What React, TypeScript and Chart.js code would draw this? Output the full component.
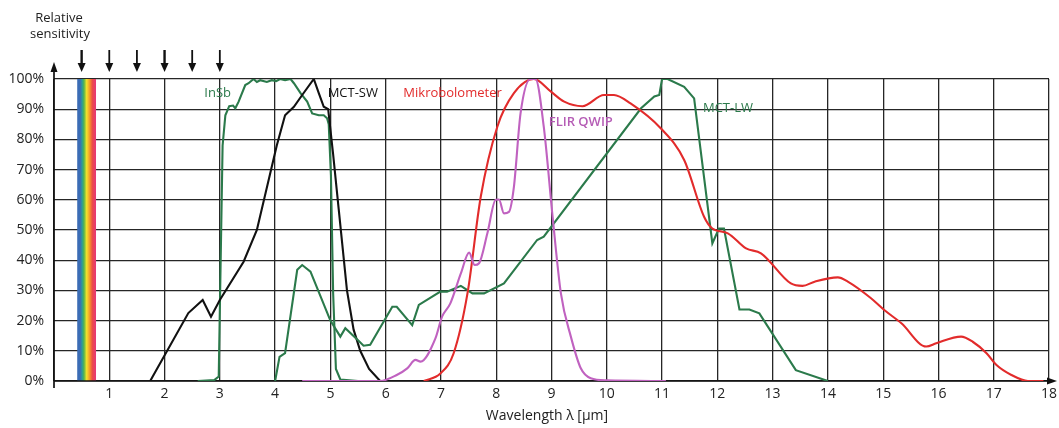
import React, { useEffect, useRef } from 'react';
import { Chart, registerables } from 'chart.js';

Chart.register(...registerables);

const FONT = '"Open Sans", "Noto Sans", sans-serif';

// ---- data ----
const xMin = 0;
const xMax = 18;
const yMax = 100;

const insbWavelength = [2.6, 2.9, 2.98, 3.05, 3.1, 3.17, 3.24, 3.28, 3.34, 3.46, 3.52, 3.61, 3.67, 3.73, 3.85, 3.94, 4.02, 4.09, 4.18, 4.28, 4.34, 4.46, 4.58, 4.67, 4.79, 4.88, 4.94, 4.97, 5.01, 5.05, 5.1, 5.18, 5.5];
const insbSensitivity = [0, 0.3, 1.5, 78, 88, 91, 91.2, 90.3, 92.5, 98, 98.6, 100, 99, 99.6, 99, 99.6, 99.3, 100, 99.6, 100, 98.6, 95.3, 92.5, 88.6, 88, 88, 87, 85, 68, 29, 4, 0.5, 0];

const mctSwWavelength = [1.74, 2.43, 2.69, 2.84, 3.0, 3.43, 3.67, 4.03, 4.18, 4.34, 4.49, 4.7, 4.79, 4.88, 4.96, 5.05, 5.15, 5.3, 5.42, 5.54, 5.7, 5.9];
const mctSwSensitivity = [0, 22.5, 26.8, 21.3, 26.8, 39.5, 50, 78, 88, 90.8, 94.7, 100, 95.3, 90.8, 90, 75, 57, 30, 17, 10, 4, 0];

const mctLwWavelength = [4.0, 4.08, 4.18, 4.4, 4.49, 4.64, 5.0, 5.18, 5.27, 5.5, 5.6, 5.72, 6.12, 6.2, 6.48, 6.6, 6.99, 7.11, 7.36, 7.57, 7.78, 8.14, 8.74, 8.86, 10.62, 10.86, 10.95, 11.0, 11.1, 11.4, 11.58, 11.91, 12.03, 12.12, 12.4, 12.58, 12.76, 13.42, 14.0];
const mctLwSensitivity = [0, 8, 9.2, 36.8, 38.4, 36.2, 20, 14.7, 17.5, 13.5, 11.7, 12, 24.6, 24.6, 18.5, 25.2, 29.6, 29.6, 31.5, 29, 29, 32.3, 46.7, 47.8, 90.3, 94.2, 94.7, 100, 100, 97.4, 93.6, 45.6, 50.5, 50.5, 23.7, 23.7, 22.4, 3.6, 0];

const bolometerWavelength = [6.69, 6.99, 7.23, 7.48, 7.72, 8.02, 8.32, 8.68, 8.99, 9.23, 9.56, 9.95, 10.13, 10.43, 10.98, 11.4, 11.76, 11.91, 12.19, 12.52, 12.79, 13.33, 13.54, 13.76, 14.18, 14.36, 14.78, 15.02, 15.33, 15.78, 15.96, 16.41, 16.62, 16.87, 17.05, 17.32, 17.62, 17.9];
const bolometerSensitivity = [0, 2.5, 9.2, 29, 61, 84.2, 95.3, 100, 95.8, 92.5, 91, 94.7, 94.7, 91.9, 83.6, 73.2, 54.4, 50.5, 48.9, 43.9, 42.3, 32.3, 31.5, 32.9, 34.3, 32.9, 27.4, 23.5, 19.1, 11.4, 12.5, 14.7, 13, 9.2, 5.3, 2, 0, 0];

const qwipWavelength = [4.49, 5.9, 6.2, 6.39, 6.54, 6.63, 6.9, 7.02, 7.17, 7.36, 7.51, 7.61, 7.69, 7.84, 7.99, 8.05, 8.14, 8.23, 8.32, 8.44, 8.62, 8.71, 8.86, 9.02, 9.17, 9.35, 9.53, 9.71, 10.0, 11.07];
const qwipSensitivity = [0, 0, 2, 4.2, 7, 6.4, 14.1, 21.3, 25.7, 35.6, 42.5, 38.4, 39, 48.9, 60, 60.1, 55.5, 56, 64.3, 88.6, 100, 100, 84.2, 54.4, 29, 14.7, 4.2, 0.9, 0.2, 0];

const seriesNames = ['InSb', 'MCT-SW', 'Mikrobolometer', 'FLIR QWIP', 'MCT-LW'];
const arrowWavelengths = [0.5, 1, 1.5, 2, 2.5, 3];
const visibleBand = [0.42, 0.76];
const titleLines = ['Relative', 'sensitivity'];
const xAxisTitle = 'Wavelength \u03bb [\u00b5m]';

// ---- styles ----
const GREEN = '#2b7a4b';
const BLACK = '#111111';
const RED = '#e22b2b';
const PURPLE = '#c062c0';
const spectrumStops: [number, string][] = [
  [0, '#3b6cb5'],
  [0.16, '#3b6cb5'],
  [0.26, '#2a9c98'],
  [0.36, '#55b44c'],
  [0.5, '#f2e32b'],
  [0.66, '#f39a2a'],
  [0.8, '#ec4d45'],
  [1, '#e6377a'],
];

const labelStyle = [
  { x: 2.72, y: 95.4, color: GREEN, weight: '400' },
  { x: 4.95, y: 95.4, color: BLACK, weight: '400' },
  { x: 6.32, y: 95.4, color: RED, weight: '400' },
  { x: 8.95, y: 85.8, color: '#b55cb5', weight: '600' },
  { x: 11.74, y: 90.4, color: GREEN, weight: '400' },
];

const toPoints = (xs: number[], ys: number[]) => xs.map((x, i) => ({ x, y: ys[i] }));

const decorPlugin = {
  id: 'decor',
  beforeDatasetsDraw(chart: any) {
    const { ctx, scales, chartArea } = chart;
    const xs = scales.x;
    const ys = scales.y;
    const x0 = xs.getPixelForValue(visibleBand[0]);
    const x1 = xs.getPixelForValue(visibleBand[1]);
    const yTop = ys.getPixelForValue(yMax);
    const yBot = ys.getPixelForValue(0);
    const g = ctx.createLinearGradient(x0, 0, x1, 0);
    spectrumStops.forEach(([p, c]) => g.addColorStop(p, c));
    ctx.save();
    ctx.fillStyle = g;
    ctx.fillRect(x0, yTop, x1 - x0, yBot - yTop);

    const left = chartArea.left;
    const bottom = chartArea.bottom;
    ctx.strokeStyle = '#111';
    ctx.fillStyle = '#111';
    ctx.lineWidth = 1.7;
    // y axis
    ctx.beginPath();
    ctx.moveTo(left, bottom + 7);
    ctx.lineTo(left, chartArea.top - 10);
    ctx.stroke();
    ctx.beginPath();
    ctx.moveTo(left, chartArea.top - 17);
    ctx.lineTo(left - 3.5, chartArea.top - 7);
    ctx.lineTo(left + 3.5, chartArea.top - 7);
    ctx.closePath();
    ctx.fill();
    // x axis
    ctx.beginPath();
    ctx.moveTo(left, bottom);
    ctx.lineTo(chartArea.right + 2, bottom);
    ctx.stroke();
    ctx.beginPath();
    ctx.moveTo(chartArea.right + 8, bottom);
    ctx.lineTo(chartArea.right - 2, bottom - 3.5);
    ctx.lineTo(chartArea.right - 2, bottom + 3.5);
    ctx.closePath();
    ctx.fill();
    ctx.restore();
  },
  afterDraw(chart: any) {
    const { ctx, scales } = chart;
    const xs = scales.x;
    const ys = scales.y;
    ctx.save();
    ctx.strokeStyle = '#111';
    ctx.fillStyle = '#111';
    // arrows
    arrowWavelengths.forEach((w, i) => {
      const px = xs.getPixelForValue(w);
      const heavy = i === 0 || i === 3;
      ctx.lineWidth = heavy ? 2.4 : 1.8;
      ctx.beginPath();
      ctx.moveTo(px, 50);
      ctx.lineTo(px, 64);
      ctx.stroke();
      ctx.beginPath();
      ctx.moveTo(px, 72);
      ctx.lineTo(px - 4, 63);
      ctx.lineTo(px + 4, 63);
      ctx.closePath();
      ctx.fill();
    });
    // title
    ctx.fillStyle = '#222';
    ctx.font = `13px ${FONT}`;
    ctx.textAlign = 'center';
    ctx.textBaseline = 'alphabetic';
    ctx.fillText(titleLines[0], 59, 22);
    ctx.fillText(titleLines[1], 60, 38);
    // x axis title
    ctx.font = `14px ${FONT}`;
    ctx.fillText(xAxisTitle, 547, 420);
    // series labels
    ctx.textAlign = 'left';
    ctx.textBaseline = 'middle';
    seriesNames.forEach((name, i) => {
      const s = labelStyle[i];
      ctx.font = `${s.weight} 13px ${FONT}`;
      ctx.fillStyle = s.color;
      ctx.fillText(name, xs.getPixelForValue(s.x), ys.getPixelForValue(s.y));
    });
    ctx.restore();
  },
};

export default function App() {
  const ref = useRef<HTMLCanvasElement | null>(null);
  useEffect(() => {
    if (!ref.current) return;
    const line = (label: string, xs: number[], ys: number[], color: string, smooth: boolean) => ({
      label,
      data: toPoints(xs, ys),
      borderColor: color,
      backgroundColor: color,
      borderWidth: 2.1,
      pointRadius: 0,
      fill: false,
      tension: 0,
      cubicInterpolationMode: smooth ? 'monotone' : 'default',
    });
    const chart = new Chart(ref.current, {
      type: 'line',
      data: {
        datasets: [
          line('FLIR QWIP', qwipWavelength, qwipSensitivity, PURPLE, true),
          line('Mikrobolometer', bolometerWavelength, bolometerSensitivity, RED, true),
          line('MCT-LW', mctLwWavelength, mctLwSensitivity, GREEN, false),
          line('MCT-SW', mctSwWavelength, mctSwSensitivity, BLACK, false),
          line('InSb', insbWavelength, insbSensitivity, GREEN, false),
        ] as any,
      },
      options: {
        animation: false,
        responsive: false,
        layout: { padding: { top: 79, right: 10, left: 0, bottom: 0 } },
        plugins: { legend: { display: false }, tooltip: { enabled: false } },
        scales: {
          x: {
            type: 'linear',
            min: xMin,
            max: xMax,
            border: { display: false },
            grid: { color: '#262626', lineWidth: 1.3, drawTicks: false },
            ticks: {
              stepSize: 1,
              padding: 5,
              color: '#222',
              font: { family: FONT, size: 14 },
              callback: (v: any) => (v === 0 ? '' : String(v)),
              maxRotation: 0,
              autoSkip: false,
            },
            afterFit: (s: any) => {
              s.height = 47;
              s.paddingLeft = 0;
              s.paddingRight = 0;
            },
          },
          y: {
            type: 'linear',
            min: 0,
            max: yMax,
            border: { display: false },
            grid: { color: '#262626', lineWidth: 1.3, drawTicks: false },
            ticks: {
              stepSize: 10,
              padding: 10,
              color: '#222',
              font: { family: FONT, size: 14 },
              callback: (v: any) => `${v}%`,
            },
            afterFit: (s: any) => {
              s.width = 54;
              s.paddingTop = 0;
              s.paddingBottom = 0;
            },
          },
        },
      } as any,
      plugins: [decorPlugin],
    });
    return () => chart.destroy();
  }, []);
  return (
    <div style={{ position: 'fixed', left: 0, top: 0, width: 1059, height: 428, background: '#fff' }}>
      <canvas ref={ref} width={1059} height={428} />
    </div>
  );
}
